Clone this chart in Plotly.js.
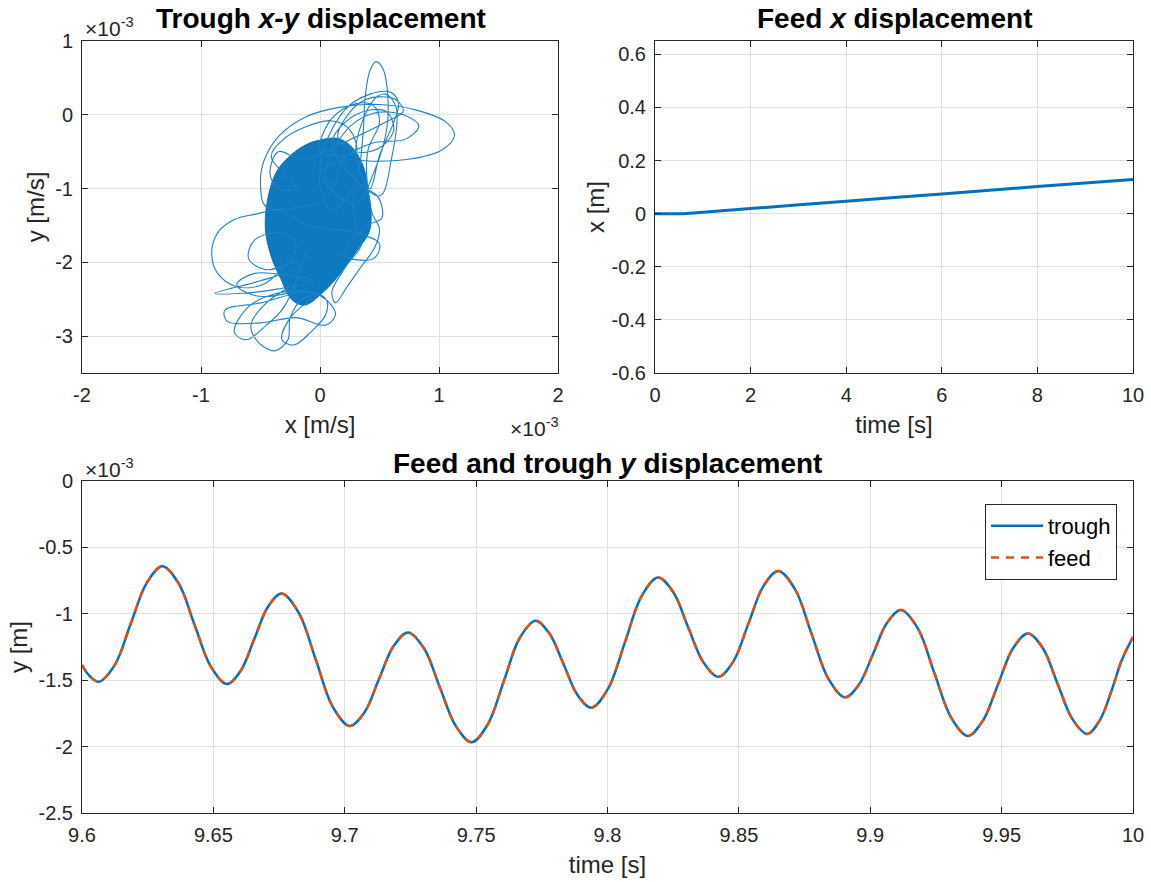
<!DOCTYPE html>
<html>
<head>
<meta charset="utf-8">
<script src="https://cdn.plot.ly/plotly-3.0.1.min.js"></script>
<style>
  html, body { margin: 0; padding: 0; background: #ffffff; }
  #chart { width: 1151px; height: 882px; }
</style>
</head>
<body>
<div id="chart"></div>
<script>
// ---------------- DATA ----------------
// Top-left: trough x-y displacement, values in units of 1e-3
// Dense core region outline (the solid mass of overlapping loops)
const coreOutlineX = [-0.005, 0.15, 0.275, 0.368, 0.40, 0.43, 0.41, 0.30, 0.17, 0.03, -0.13, -0.24, -0.33, -0.41, -0.46, -0.43, -0.36, -0.24, -0.11, -0.005];
const coreOutlineY = [-0.345, -0.32, -0.45, -0.72, -0.98, -1.34, -1.60, -1.86, -2.15, -2.40, -2.58, -2.50, -2.22, -1.92, -1.52, -1.07, -0.76, -0.54, -0.40, -0.345];

// Individual loops visible around the core (one continuous path)
const troughLoopX = [
  0.0, -0.45, -0.50, -0.47, -0.34, -0.12, 0.16, 0.50, 0.82, 1.06, 1.13, 1.02, 0.76, 0.45, 0.20, 0.0,
  0.10, 0.30, 0.36, 0.38, 0.42, 0.47, 0.53, 0.57, 0.56, 0.46, 0.30,
  0.05, 0.20, 0.45, 0.70, 0.83, 0.72, 0.45, 0.20, 0.10,
  0.0, 0.20, 0.42, 0.60, 0.66, 0.62, 0.50, 0.42,
  0.30, 0.45, 0.55, 0.64, 0.60, 0.50,
  0.10, 0.30, 0.55, 0.62, 0.50, 0.30,
  0.15, 0.35, 0.62, 0.70, 0.55, 0.30,
  -0.15, -0.35, -0.42, -0.35,
  -0.20, -0.41, -0.32, -0.13, 0.09, 0.25, 0.30,
  0.0, 0.10, 0.30, 0.45, 0.50, 0.40,
  0.43, 0.50, 0.46, 0.35, 0.22, 0.13, 0.10, 0.22, 0.35, 0.30,
  0.30, 0.48, 0.52, 0.40,
  0.20, 0.45, 0.50, 0.30,
  -0.10, -0.35, -0.55, -0.72, -0.86, -0.91, -0.86, -0.70, -0.48, -0.30, -0.20,
  -0.30, -0.55, -0.60, -0.45, -0.20,
  -0.15, -0.50, -0.88, -0.65, -0.35, -0.05,
  -0.20, -0.55, -0.70, -0.55, -0.25,
  -0.20, -0.45, -0.58, -0.52, -0.38, -0.27, -0.25, -0.15,
  -0.05, -0.25, -0.32, -0.22, -0.08, 0.05, 0.05,
  -0.10, -0.50, -0.80, -0.78, -0.50, -0.20, 0.05, 0.13, 0.0,
  -0.30, -0.60, -0.72, -0.62, -0.45, -0.30,
  -0.10
];
const troughLoopY = [
  -1.20, -1.25, -0.95, -0.62, -0.28, -0.03, 0.10, 0.14, 0.06, -0.10, -0.28, -0.48, -0.60, -0.63, -0.62, -0.80,
  -1.30, -0.90, -0.30, 0.25, 0.60, 0.72, 0.62, 0.25, -0.20, -0.75, -1.20,
  -0.90, -0.25, 0.02, 0.0, -0.15, -0.33, -0.38, -0.60, -1.00,
  -0.70, 0.05, 0.28, 0.30, 0.15, -0.10, -0.55, -1.00,
  -0.50, 0.20, 0.28, 0.10, -0.60, -1.10,
  -0.40, 0.0, 0.05, -0.20, -0.45, -0.50,
  -0.30, 0.18, 0.22, 0.05, -0.10, -0.30,
  -0.60, -0.50, -0.80, -1.00,
  -1.00, -0.57, -0.35, -0.17, -0.08, -0.20, -0.50,
  -0.50, -0.05, 0.15, 0.12, -0.10, -0.50,
  -1.30, -1.55, -1.80, -2.05, -2.35, -2.55, -2.40, -2.05, -1.75, -1.50,
  -1.00, -1.10, -1.40, -1.50,
  -1.90, -1.95, -1.75, -1.60,
  -1.50, -1.30, -1.35, -1.42, -1.60, -1.88, -2.15, -2.33, -2.30, -2.05, -1.80,
  -1.60, -1.70, -1.95, -2.10, -2.00,
  -2.05, -2.25, -2.42, -2.42, -2.36, -2.25,
  -2.20, -2.15, -2.30, -2.45, -2.40,
  -2.30, -2.55, -2.85, -3.08, -3.20, -3.05, -2.75, -2.50,
  -2.45, -2.75, -3.05, -3.12, -2.95, -2.70, -2.50,
  -2.40, -2.55, -2.65, -2.80, -2.82, -2.75, -2.85, -2.70, -2.45,
  -2.40, -2.60, -2.95, -3.05, -2.85, -2.60,
  -1.80
];

// Top-right: feed x displacement
const feedTime = [0, 0.6, 1, 2, 4, 6, 8, 10];
const feedXDisp = [0, 0, 0.005, 0.019, 0.047, 0.074, 0.102, 0.129];

// Bottom: feed and trough y displacement (units of 1e-3 m)
const yTime = [
  9.6000, 9.6030, 9.6064, 9.6125, 9.6185, 9.6246, 9.6306, 9.6368, 9.6429, 9.6491,
  9.6552, 9.6604, 9.6656, 9.6708, 9.6760, 9.6825, 9.6890, 9.6954, 9.7019, 9.7075,
  9.7130, 9.7186, 9.7241, 9.7302, 9.7362, 9.7423, 9.7483, 9.7544, 9.7605, 9.7665,
  9.7726, 9.7779, 9.7833, 9.7886, 9.7939, 9.8002, 9.8066, 9.8129, 9.8192, 9.8250,
  9.8307, 9.8365, 9.8422, 9.8479, 9.8536, 9.8593, 9.8650, 9.8714, 9.8777, 9.8841,
  9.8904, 9.8957, 9.9011, 9.9064, 9.9117, 9.9181, 9.9244, 9.9308, 9.9371, 9.9428,
  9.9486, 9.9543, 9.9600, 9.9657, 9.9713, 9.9770, 9.9826, 9.9874, 9.9919, 9.9957,
  10.0000];
const troughY = [
  -1.386, -1.470, -1.511, -1.384, -1.077, -0.769, -0.642, -0.772, -1.086, -1.400,
  -1.529, -1.429, -1.188, -0.947, -0.847, -0.993, -1.346, -1.699, -1.845, -1.742,
  -1.493, -1.243, -1.140, -1.261, -1.554, -1.846, -1.967, -1.834, -1.510, -1.186,
  -1.053, -1.149, -1.380, -1.612, -1.707, -1.564, -1.217, -0.870, -0.727, -0.836,
  -1.101, -1.365, -1.474, -1.358, -1.076, -0.793, -0.677, -0.816, -1.153, -1.490,
  -1.629, -1.533, -1.301, -1.068, -0.972, -1.110, -1.446, -1.782, -1.920, -1.807,
  -1.534, -1.261, -1.148, -1.259, -1.527, -1.795, -1.905, -1.800, -1.575, -1.350,
  -1.175];
const feedY = [
  -1.386, -1.470, -1.511, -1.384, -1.077, -0.769, -0.642, -0.772, -1.086, -1.400,
  -1.529, -1.429, -1.188, -0.947, -0.847, -0.993, -1.346, -1.699, -1.845, -1.742,
  -1.493, -1.243, -1.140, -1.261, -1.554, -1.846, -1.967, -1.834, -1.510, -1.186,
  -1.053, -1.149, -1.380, -1.612, -1.707, -1.564, -1.217, -0.870, -0.727, -0.836,
  -1.101, -1.365, -1.474, -1.358, -1.076, -0.793, -0.677, -0.816, -1.153, -1.490,
  -1.629, -1.533, -1.301, -1.068, -0.972, -1.110, -1.446, -1.782, -1.920, -1.807,
  -1.534, -1.261, -1.148, -1.259, -1.527, -1.795, -1.905, -1.800, -1.575, -1.350,
  -1.175];

// Tick values / labels
const tlXTicks = [-2, -1, 0, 1, 2];
const tlXLabels = ['-2', '-1', '0', '1', '2'];
const tlYTicks = [1, 0, -1, -2, -3];
const tlYLabels = ['1', '0', '-1', '-2', '-3'];
const trXTicks = [0, 2, 4, 6, 8, 10];
const trXLabels = ['0', '2', '4', '6', '8', '10'];
const trYTicks = [0.6, 0.4, 0.2, 0, -0.2, -0.4, -0.6];
const trYLabels = ['0.6', '0.4', '0.2', '0', '-0.2', '-0.4', '-0.6'];
const bXTicks = [9.6, 9.65, 9.7, 9.75, 9.8, 9.85, 9.9, 9.95, 10];
const bXLabels = ['9.6', '9.65', '9.7', '9.75', '9.8', '9.85', '9.9', '9.95', '10'];
const bYTicks = [0, -0.5, -1, -1.5, -2, -2.5];
const bYLabels = ['0', '-0.5', '-1', '-1.5', '-2', '-2.5'];

// ---------------- STYLE / LAYOUT ----------------
const W = 1151, H = 882;
const px = v => v / W;
const py = v => 1 - v / H;
const BLUE = 'rgb(0,114,189)';
const ORANGE = 'rgb(217,83,25)';
const AX = '#262626';
const FONT = 'Liberation Sans, Arial, sans-serif';

function axisStyle(extra) {
  return Object.assign({
    showline: true, linecolor: AX, linewidth: 1, mirror: 'ticks',
    ticks: 'inside', ticklen: 6, tickcolor: AX, tickwidth: 1,
    showgrid: true, gridcolor: '#e0e0e0', gridwidth: 1, zeroline: false,
    tickfont: { family: FONT, size: 20, color: AX },
    tickmode: 'array', ticklabelstandoff: 4, fixedrange: true
  }, extra);
}
const axTitleFont = { family: FONT, size: 24, color: AX };
const titleFont = { family: FONT, size: 28, color: '#000000' };
const expFont = { family: FONT, size: 21, color: AX };

const traces = [
  { x: coreOutlineX, y: coreOutlineY, xaxis: 'x', yaxis: 'y', mode: 'lines', fill: 'toself',
    fillcolor: 'rgba(0,114,189,0.95)', line: { color: BLUE, width: 1, shape: 'spline', smoothing: 1 },
    showlegend: false, hoverinfo: 'skip' },
  { x: troughLoopX, y: troughLoopY, xaxis: 'x', yaxis: 'y', mode: 'lines',
    line: { color: 'rgb(30,130,200)', width: 1.1, shape: 'spline', smoothing: 1 },
    showlegend: false },
  { x: feedTime, y: feedXDisp, xaxis: 'x2', yaxis: 'y2', mode: 'lines',
    line: { color: BLUE, width: 3, shape: 'spline', smoothing: 0.6 }, showlegend: false },
  { x: yTime, y: troughY, xaxis: 'x3', yaxis: 'y3', mode: 'lines', name: 'trough',
    line: { color: BLUE, width: 2.5, shape: 'spline', smoothing: 1 } },
  { x: yTime, y: feedY, xaxis: 'x3', yaxis: 'y3', mode: 'lines', name: 'feed',
    line: { color: ORANGE, width: 2.5, dash: '8px,7px', shape: 'spline', smoothing: 1 } }
];

const layout = {
  width: W, height: H,
  margin: { l: 0, r: 0, t: 0, b: 0 },
  paper_bgcolor: '#ffffff', plot_bgcolor: '#ffffff',
  font: { family: FONT, color: AX },
  xaxis: axisStyle({ domain: [px(82), px(558)], anchor: 'y', range: [-2, 2],
    tickvals: tlXTicks, ticktext: tlXLabels,
    title: { text: 'x [m/s]', font: axTitleFont, standoff: 11 } }),
  yaxis: axisStyle({ domain: [py(373), py(41)], anchor: 'x', range: [-3.5, 1],
    tickvals: tlYTicks, ticktext: tlYLabels,
    title: { text: 'y [m/s]', font: axTitleFont, standoff: 3 } }),
  xaxis2: axisStyle({ domain: [px(655), px(1133)], anchor: 'y2', range: [0, 10],
    tickvals: trXTicks, ticktext: trXLabels,
    title: { text: 'time [s]', font: axTitleFont, standoff: 11 } }),
  yaxis2: axisStyle({ domain: [py(373), py(41)], anchor: 'x2', range: [-0.6, 0.65],
    tickvals: trYTicks, ticktext: trYLabels,
    title: { text: 'x [m]', font: axTitleFont, standoff: 0 } }),
  xaxis3: axisStyle({ domain: [px(82), px(1133)], anchor: 'y3', range: [9.6, 10],
    tickvals: bXTicks, ticktext: bXLabels,
    title: { text: 'time [s]', font: axTitleFont, standoff: 11 } }),
  yaxis3: axisStyle({ domain: [py(813), py(481)], anchor: 'x3', range: [-2.5, 0],
    tickvals: bYTicks, ticktext: bYLabels,
    title: { text: 'y [m]', font: axTitleFont, standoff: 4 } }),
  legend: {
    x: px(985), y: py(504), xanchor: 'left', yanchor: 'top',
    bgcolor: '#ffffff', bordercolor: AX, borderwidth: 1,
    font: { family: FONT, size: 22, color: '#000000' },
    tracegroupgap: 0, itemwidth: 52
  },
  annotations: [
    { xref: 'paper', yref: 'paper', x: px(321), y: py(19), xanchor: 'center', yanchor: 'middle',
      text: '<b>Trough <i>x-y</i> displacement</b>', showarrow: false, font: titleFont },
    { xref: 'paper', yref: 'paper', x: px(894), y: py(19), xanchor: 'center', yanchor: 'middle',
      text: '<b>Feed <i>x</i> displacement</b>', showarrow: false, font: titleFont },
    { xref: 'paper', yref: 'paper', x: px(607), y: py(463), xanchor: 'center', yanchor: 'middle',
      text: '<b>Feed and trough <i>y</i> displacement</b>', showarrow: false, font: titleFont },
    { xref: 'paper', yref: 'paper', x: px(83), y: py(27), xanchor: 'left', yanchor: 'middle',
      text: '×10<sup>-3</sup>', showarrow: false, font: expFont },
    { xref: 'paper', yref: 'paper', x: px(561), y: py(427), xanchor: 'right', yanchor: 'middle',
      text: '×10<sup>-3</sup>', showarrow: false, font: expFont },
    { xref: 'paper', yref: 'paper', x: px(83), y: py(468), xanchor: 'left', yanchor: 'middle',
      text: '×10<sup>-3</sup>', showarrow: false, font: expFont }
  ]
};

Plotly.newPlot('chart', traces, layout, { staticPlot: true, displayModeBar: false });
</script>
</body>
</html>
